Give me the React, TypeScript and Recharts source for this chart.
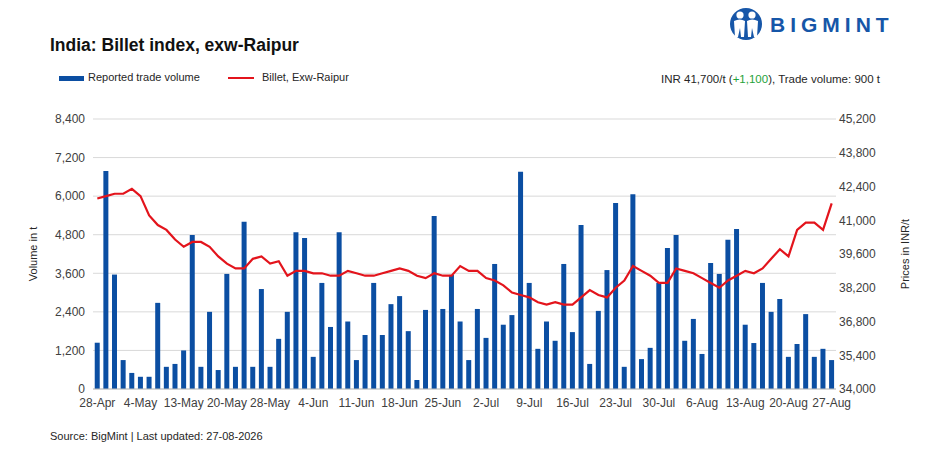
import React from "react";
import { ComposedChart, Bar, Line, XAxis, YAxis, CartesianGrid } from "recharts";

const dates = [
  "28-Apr", "29-Apr", "30-Apr", "1-May", "2-May",
  "4-May", "5-May", "6-May", "8-May", "11-May",
  "13-May", "14-May", "15-May", "16-May", "18-May",
  "20-May", "21-May", "22-May", "25-May", "26-May",
  "28-May", "29-May", "30-May", "1-Jun", "2-Jun",
  "4-Jun", "5-Jun", "6-Jun", "8-Jun", "9-Jun",
  "11-Jun", "12-Jun", "13-Jun", "15-Jun", "16-Jun",
  "18-Jun", "19-Jun", "20-Jun", "22-Jun", "23-Jun",
  "25-Jun", "26-Jun", "27-Jun", "29-Jun", "30-Jun",
  "2-Jul", "3-Jul", "4-Jul", "6-Jul", "7-Jul",
  "9-Jul", "10-Jul", "11-Jul", "13-Jul", "14-Jul",
  "16-Jul", "17-Jul", "18-Jul", "20-Jul", "21-Jul",
  "23-Jul", "24-Jul", "25-Jul", "27-Jul", "28-Jul",
  "30-Jul", "31-Jul", "1-Aug", "3-Aug", "4-Aug",
  "6-Aug", "7-Aug", "8-Aug", "10-Aug", "11-Aug",
  "13-Aug", "14-Aug", "15-Aug", "17-Aug", "18-Aug",
  "20-Aug", "21-Aug", "22-Aug", "24-Aug", "25-Aug",
  "27-Aug",
];

const tickDates = [
  "28-Apr", "4-May", "13-May", "20-May", "28-May", "4-Jun", "11-Jun", "18-Jun", "25-Jun",
  "2-Jul", "9-Jul", "16-Jul", "23-Jul", "30-Jul", "6-Aug", "13-Aug", "20-Aug", "27-Aug",
];

// reported trade volume, t
const volume = [
  1440, 6780, 3560, 900, 500, 380, 380, 2680, 690, 780,
  1200, 4790, 690, 2400, 590, 3580, 690, 5200, 690, 3110,
  690, 1560, 2400, 4880, 4700, 1000, 3300, 1930, 4880, 2100,
  900, 1680, 3300, 1680, 2640, 2890, 1800, 280, 2460, 5380,
  2490, 3550, 2100, 900, 2490, 1590, 3890, 2000, 2300, 6760,
  3300, 1250, 2100, 1500, 3890, 1770, 5100, 780, 2430, 3700,
  5790, 690, 6060, 930, 1280, 3300, 4390, 4790, 1500, 2180,
  1090, 3920, 3580, 4640, 4980, 2000, 1430, 3300, 2400, 2800,
  1000, 1400, 2330, 1000, 1250, 900,
];

// billet, exw-Raipur, INR/t
const price = [
  41900, 42000, 42100, 42100, 42300, 42000, 41200, 40800, 40600, 40200,
  39900, 40100, 40100, 39900, 39500, 39200, 39000, 39000, 39400, 39500,
  39200, 39300, 38700, 38900, 38900, 38800, 38800, 38700, 38700, 38900,
  38800, 38700, 38700, 38800, 38900, 39000, 38900, 38700, 38600, 38800,
  38700, 38700, 39100, 38900, 38900, 38600, 38500, 38300, 38000, 37900,
  37800, 37600, 37500, 37600, 37500, 37500, 37800, 38100, 37900, 37800,
  38200, 38500, 39100, 38900, 38700, 38400, 38400, 39000, 38900, 38800,
  38600, 38400, 38200, 38500, 38700, 38900, 38800, 39000, 39400, 39800,
  39500, 40600, 40900, 40900, 40600, 41700,
];

const volumeTicks = [0, 1200, 2400, 3600, 4800, 6000, 7200, 8400];
const priceTicks = [34000, 35400, 36800, 38200, 39600, 41000, 42400, 43800, 45200];

const rows = dates.map((date, i) => ({ date, volume: volume[i], price: price[i] }));

const BLUE = "#0b4ea2";
const RED = "#e3141c";
const FONT = "'Liberation Sans', Arial, sans-serif";
const fmt = (v: number) => v.toLocaleString("en-US");
const tickStyle = { fontSize: 12, fill: "#404040", fontFamily: FONT };

function Logo() {
  return (
    <svg width={925} height={50} style={{ position: "absolute", left: 0, top: 0 }}>
      <circle cx={746} cy={24} r={16} fill="#1656a8" />
      <circle cx={740} cy={15} r={3.6} fill="#fff" />
      <circle cx={752} cy={15} r={3.6} fill="#fff" />
      <path d="M734 21 Q740 18 745 21 L744 37 L741 37 L740 28 L738 37 L735 37 Z" fill="#fff" />
      <path d="M747 21 Q752 18 758 21 L757 37 L754 37 L752 28 L751 37 L748 37 Z" fill="#fff" />
      <text x={770} y={32} fontSize={21} fontWeight={700} fill="#1656a8" letterSpacing={5} fontFamily={FONT}>
        BIGMINT
      </text>
    </svg>
  );
}

export default function App() {
  return (
    <div style={{ position: "absolute", left: 0, top: 0, width: 925, height: 450, background: "#fff", fontFamily: FONT, color: "#262626" }}>
      <Logo />
      <div style={{ position: "absolute", left: 50, top: 35, fontSize: 17.5, fontWeight: 700, color: "#111" }}>
        India: Billet index, exw-Raipur
      </div>

      <div style={{ position: "absolute", left: 59, top: 76, width: 25, height: 5, background: BLUE }} />
      <div style={{ position: "absolute", left: 88, top: 71, fontSize: 11 }}>Reported trade volume</div>
      <div style={{ position: "absolute", left: 228, top: 77, width: 26, height: 2, background: RED }} />
      <div style={{ position: "absolute", left: 262, top: 71, fontSize: 11 }}>Billet, Exw-Raipur</div>

      <div style={{ position: "absolute", right: 45, top: 73, fontSize: 11.5, whiteSpace: "nowrap" }}>
        INR 41,700/t (<span style={{ color: "#1fa33a" }}>+1,100</span>), Trade volume: 900 t
      </div>

      <div style={{ position: "absolute", left: 33, top: 254, fontSize: 11, whiteSpace: "nowrap", transform: "translate(-50%, -50%) rotate(-90deg)" }}>
        Volume in t
      </div>
      <div style={{ position: "absolute", left: 905, top: 254, fontSize: 11, whiteSpace: "nowrap", transform: "translate(-50%, -50%) rotate(-90deg)" }}>
        Prices in INR/t
      </div>

      <div style={{ position: "absolute", left: 50, top: 430, fontSize: 11 }}>
        Source: BigMint | Last updated: 27-08-2026
      </div>

      <div style={{ position: "absolute", left: 0, top: 0 }}>
        <ComposedChart
          width={925}
          height={450}
          data={rows}
          margin={{ top: 119, right: 45, bottom: 31, left: 50 }}
          barCategoryGap="20%"
        >
          <CartesianGrid yAxisId="vol" vertical={false} stroke="#d9d9d9" />
          <XAxis
            dataKey="date"
            ticks={tickDates}
            interval={0}
            tickLine={false}
            tickSize={0}
            tickMargin={9}
            axisLine={{ stroke: "#bfbfbf" }}
            tick={tickStyle}
            height={30}
          />
          <YAxis
            yAxisId="vol"
            domain={[0, 8400]}
            ticks={volumeTicks}
            width={43}
            axisLine={false}
            tickLine={false}
            tickSize={0}
            tickMargin={8}
            tick={tickStyle}
            tickFormatter={fmt}
          />
          <YAxis
            yAxisId="price"
            orientation="right"
            domain={[34000, 45200]}
            ticks={priceTicks}
            width={44}
            axisLine={false}
            tickLine={false}
            tickSize={0}
            tickMargin={3}
            tick={tickStyle}
            tickFormatter={fmt}
          />
          <Bar yAxisId="vol" dataKey="volume" fill={BLUE} isAnimationActive={false} />
          <Line
            yAxisId="price"
            dataKey="price"
            type="linear"
            stroke={RED}
            strokeWidth={2.2}
            dot={false}
            isAnimationActive={false}
          />
        </ComposedChart>
      </div>
    </div>
  );
}
